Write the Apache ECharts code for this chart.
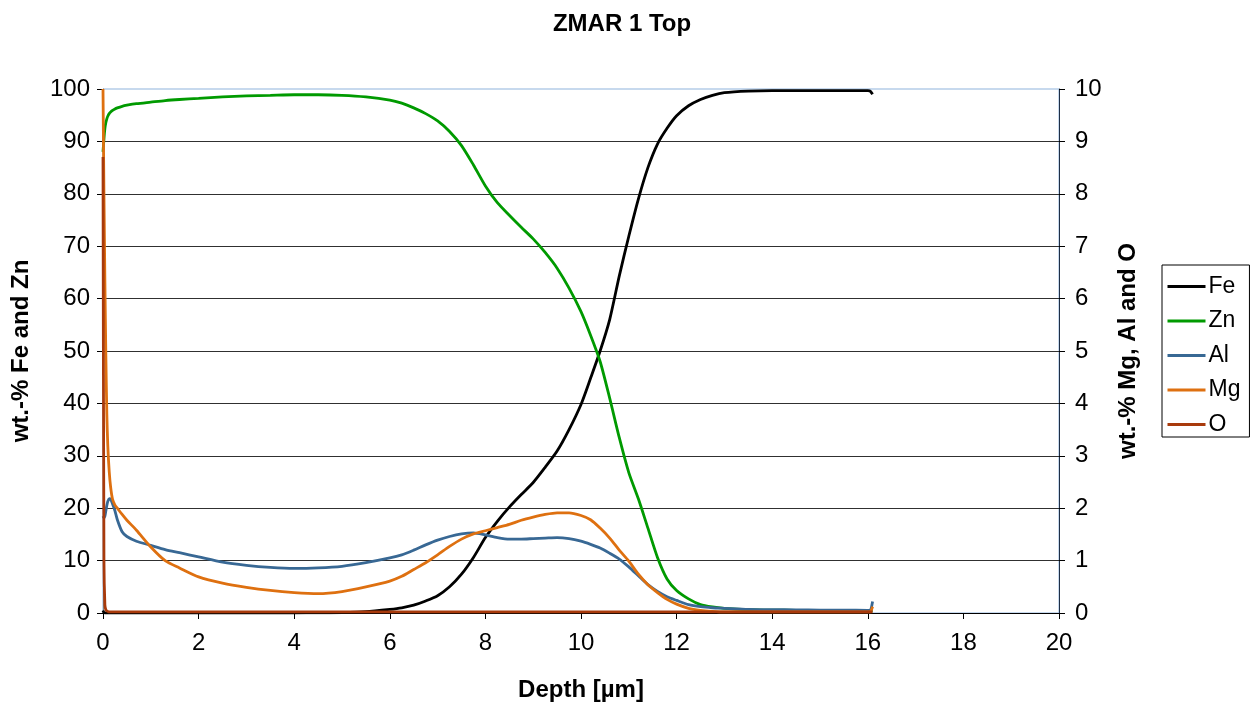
<!DOCTYPE html>
<html>
<head>
<meta charset="utf-8">
<title>ZMAR 1 Top</title>
<script src="https://cdn.jsdelivr.net/npm/echarts@6/dist/echarts.min.js"></script>
<style>
  html, body { margin: 0; padding: 0; background: #ffffff; }
  #chart { width: 1258px; height: 709px; }
</style>
</head>
<body>
<div id="chart"></div>
<script>
// Depth profile sampling positions (µm)
const depth = [0, 0.02, 0.04, 0.06, 0.08, 0.1, 0.13, 0.16, 0.2, 0.25, 0.3, 0.4, 0.5, 0.7, 1.0, 1.3, 1.6,
  2.0, 2.5, 3.0, 3.5, 4.0, 4.5, 5.0, 5.5, 6.0, 6.25, 6.5, 6.75, 7.0, 7.25, 7.5, 7.75, 8.0, 8.25, 8.5,
  8.75, 9.0, 9.25, 9.5, 9.75, 10.0, 10.2, 10.4, 10.6, 10.8, 11.0, 11.2, 11.4, 11.6, 11.8, 12.0, 12.25,
  12.5, 12.75, 13.0, 13.5, 14.0, 14.5, 15.0, 15.5, 16.0, 16.05, 16.1];

// wt.-% Fe (left axis)
const fe = [0.5, 0.1, 0, 0, 0, 0, 0, 0, 0, 0, 0, 0, 0, 0, 0, 0, 0,
  0, 0, 0, 0, 0, 0.02, 0.08, 0.25, 0.7, 1.0, 1.5, 2.3, 3.3, 5.0, 7.4, 10.6, 14.4, 17.5, 20.2,
  22.6, 24.9, 27.8, 30.9, 35.0, 39.8, 44.8, 50.0, 56.0, 64.3, 71.9, 79.0, 85.0, 89.5, 92.5, 94.9, 96.8,
  98.0, 98.8, 99.3, 99.6, 99.7, 99.7, 99.7, 99.7, 99.7, 99.6, 99.0];

// wt.-% Zn (left axis)
const zn = [88.0, 90.5, 92.5, 93.6, 94.3, 94.8, 95.3, 95.6, 95.9, 96.2, 96.4, 96.7, 96.9, 97.2, 97.5, 97.8, 98.0,
  98.2, 98.5, 98.7, 98.8, 98.9, 98.9, 98.8, 98.5, 97.9, 97.3, 96.4, 95.3, 93.9, 91.9, 89.2, 85.5, 81.5, 78.3, 75.9,
  73.6, 71.4, 68.8, 65.8, 62.0, 57.5, 53.0, 48.0, 41.0, 33.5, 26.8, 21.8, 16.2, 10.6, 6.5, 4.3, 2.7,
  1.6, 1.15, 0.9, 0.65, 0.55, 0.5, 0.45, 0.42, 0.4, 0.4, 0.4];

// wt.-% Al (right axis)
const al = [1.85, 1.82, 1.85, 1.95, 2.05, 2.13, 2.18, 2.17, 2.08, 1.95, 1.78, 1.55, 1.46, 1.37, 1.29, 1.21, 1.15,
  1.07, 0.97, 0.91, 0.87, 0.85, 0.86, 0.89, 0.96, 1.05, 1.11, 1.2, 1.3, 1.39, 1.46, 1.51, 1.53, 1.49, 1.44, 1.41,
  1.41, 1.42, 1.43, 1.44, 1.42, 1.37, 1.31, 1.24, 1.14, 1.03, 0.88, 0.71, 0.54, 0.41, 0.31, 0.24, 0.16,
  0.12, 0.1, 0.09, 0.07, 0.065, 0.06, 0.055, 0.055, 0.05, 0.05, 0.22];

// wt.-% Mg (right axis)
const mg = [10.0, 8.0, 6.3, 4.9, 3.8, 3.2, 2.7, 2.4, 2.17, 2.06, 2.0, 1.88, 1.77, 1.58, 1.26, 1.0, 0.86,
  0.69, 0.57, 0.49, 0.43, 0.39, 0.37, 0.41, 0.5, 0.61, 0.7, 0.83, 0.96, 1.11, 1.27, 1.41, 1.51, 1.57, 1.63, 1.69,
  1.77, 1.83, 1.88, 1.91, 1.91, 1.86, 1.78, 1.62, 1.43, 1.2, 0.99, 0.74, 0.54, 0.39, 0.26, 0.17, 0.09,
  0.05, 0.03, 0.02, 0.02, 0.02, 0.02, 0.02, 0.02, 0.02, 0.02, 0.12];

// wt.-% O (right axis)
const oxy = [8.7, 1.0, 0.15, 0.06, 0.04, 0.03, 0.02, 0.02, 0.02, 0.02, 0.02, 0.02, 0.02, 0.02, 0.02, 0.02, 0.02,
  0.02, 0.02, 0.02, 0.02, 0.02, 0.02, 0.02, 0.02, 0.02, 0.02, 0.02, 0.02, 0.02, 0.02, 0.02, 0.02, 0.02, 0.02, 0.02,
  0.02, 0.02, 0.02, 0.02, 0.02, 0.02, 0.02, 0.02, 0.02, 0.02, 0.02, 0.02, 0.02, 0.02, 0.02, 0.02, 0.02,
  0.02, 0.02, 0.02, 0.02, 0.02, 0.02, 0.02, 0.02, 0.02, 0.02, 0.02];

const FONT = '"Liberation Sans", Arial, sans-serif';

function pairs(values) {
  return depth.map((d, i) => [d, values[i]]);
}

function lineSeries(name, values, color, axis) {
  return {
    name: name,
    type: 'line',
    yAxisIndex: axis,
    data: pairs(values),
    symbol: 'none',
    smooth: 0.25,
    lineStyle: { color: color, width: 2.8 },
    itemStyle: { color: color },
    emphasis: { disabled: true },
    animation: false
  };
}

const chart = echarts.init(document.getElementById('chart'), null, { renderer: 'canvas' });

chart.setOption({
  backgroundColor: '#ffffff',
  textStyle: { fontFamily: FONT },
  title: {
    text: 'ZMAR 1 Top',
    left: 617,
    textAlign: 'center',
    top: 7,
    textStyle: { fontFamily: FONT, fontSize: 24, fontWeight: 'bold', color: '#000' }
  },
  grid: {
    left: 103, right: 199, top: 89, bottom: 96,
    show: true,
    borderColor: '#8fb3dc',
    borderWidth: 1,
    backgroundColor: 'transparent'
  },
  legend: {
    orient: 'vertical',
    left: 1162,
    top: 265,
    padding: [10, 9, 1, 4],
    itemWidth: 38,
    itemHeight: 14,
    itemGap: 11.5,
    borderColor: '#000',
    borderWidth: 1,
    itemStyle: { opacity: 0 },
    lineStyle: { width: 3 },
    textStyle: { fontFamily: FONT, fontSize: 23, color: '#000', padding: [0, 0, 0, -2] },
    data: ['Fe', 'Zn', 'Al', 'Mg', 'O']
  },
  xAxis: {
    type: 'value',
    min: 0, max: 20, interval: 2,
    name: 'Depth [µm]',
    nameLocation: 'middle',
    nameGap: 65,
    nameTextStyle: { fontFamily: FONT, fontSize: 24, fontWeight: 'bold', color: '#000' },
    axisLine: { show: true, lineStyle: { color: '#000', width: 1 } },
    axisTick: { show: true, inside: false, length: 6, lineStyle: { color: '#000' } },
    axisLabel: { fontFamily: FONT, fontSize: 24, color: '#000', margin: 18 },
    splitLine: { show: false }
  },
  yAxis: [
    {
      type: 'value',
      min: 0, max: 100, interval: 10,
      position: 'left',
      name: 'wt.-% Fe and Zn',
      nameLocation: 'middle',
      nameRotate: 90,
      nameGap: 70,
      nameTextStyle: { fontFamily: FONT, fontSize: 24, fontWeight: 'bold', color: '#000' },
      axisLine: { show: true, lineStyle: { color: '#808080', width: 1 } },
      axisTick: { show: true, inside: false, length: 6, lineStyle: { color: '#000' } },
      axisLabel: { fontFamily: FONT, fontSize: 24, color: '#000', margin: 13 },
      splitLine: { show: true, showMinLine: false, showMaxLine: false, lineStyle: { color: '#303030', width: 1 } }
    },
    {
      type: 'value',
      min: 0, max: 10, interval: 1,
      position: 'right',
      name: 'wt.-% Mg, Al and O',
      nameLocation: 'middle',
      nameRotate: 90,
      nameGap: 57,
      nameTextStyle: { fontFamily: FONT, fontSize: 24, fontWeight: 'bold', color: '#000' },
      axisLine: { show: true, lineStyle: { color: '#1f2f46', width: 1 } },
      axisTick: { show: true, inside: false, length: 6, lineStyle: { color: '#000' } },
      axisLabel: { fontFamily: FONT, fontSize: 24, color: '#000', margin: 16 },
      splitLine: { show: false }
    }
  ],
  series: [
    lineSeries('Fe', fe, '#000000', 0),
    lineSeries('Zn', zn, '#009a00', 0),
    lineSeries('Al', al, '#386894', 1),
    lineSeries('Mg', mg, '#de7010', 1),
    lineSeries('O', oxy, '#a83a0c', 1)
  ]
});
</script>
</body>
</html>
